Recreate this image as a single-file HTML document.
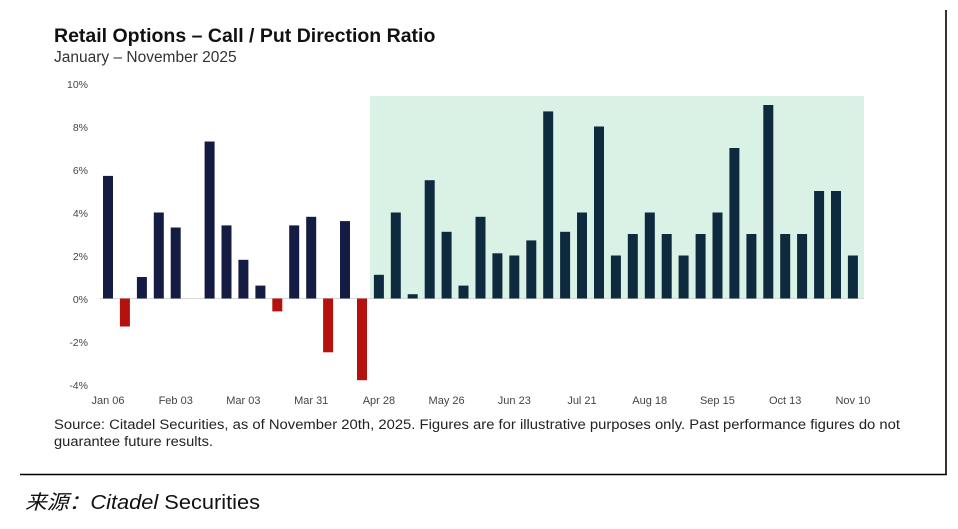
<!DOCTYPE html>
<html><head><meta charset="utf-8"><style>
body{margin:0;background:#fff;width:958px;height:529px;overflow:hidden}
svg{display:block}
</style></head><body>
<svg width="958" height="529" viewBox="0 0 958 529" xmlns="http://www.w3.org/2000/svg" font-family="Liberation Sans, Arial, sans-serif">
<rect width="958" height="529" fill="#fff"/>
<line x1="946" y1="10" x2="946" y2="475" stroke="#000" stroke-width="1.6"/>
<line x1="20" y1="474.5" x2="946.8" y2="474.5" stroke="#000" stroke-width="1.6"/>
<text x="54" y="42" font-size="19.5" font-weight="bold" fill="#111">Retail Options – Call / Put Direction Ratio</text>
<text x="54" y="62" font-size="15.5" fill="#333">January – November 2025</text>
<rect x="370" y="96" width="494" height="203" fill="#daf2e6"/>
<g font-size="10.5" fill="#444" text-anchor="end">
<text x="88" y="88">10%</text><text x="88" y="131">8%</text><text x="88" y="174">6%</text><text x="88" y="217">4%</text><text x="88" y="260">2%</text><text x="88" y="303">0%</text><text x="88" y="346">-2%</text><text x="88" y="389">-4%</text>
</g>
<line x1="100" y1="298.5" x2="864" y2="298.5" stroke="#d8d8d8" stroke-width="1"/>
<g fill="#141c44">
<rect x="103" y="175.9" width="10" height="122.6"/>
<rect x="136.9" y="277" width="10" height="21.5"/>
<rect x="153.8" y="212.5" width="10" height="86"/>
<rect x="170.7" y="227.5" width="10" height="71"/>
<rect x="204.6" y="141.5" width="10" height="157"/>
<rect x="221.5" y="225.4" width="10" height="73.1"/>
<rect x="238.4" y="259.8" width="10" height="38.7"/>
<rect x="255.4" y="285.6" width="10" height="12.9"/>
<rect x="289.2" y="225.4" width="10" height="73.1"/>
<rect x="306.2" y="216.8" width="10" height="81.7"/>
<rect x="340" y="221.1" width="10" height="77.4"/>
</g>
<g fill="#b5120f">
<rect x="119.9" y="298.5" width="10" height="28"/>
<rect x="272.3" y="298.5" width="10" height="12.9"/>
<rect x="323.1" y="298.5" width="10" height="53.8"/>
<rect x="357" y="298.5" width="10" height="81.7"/>
</g>
<g fill="#0e2a3e">
<rect x="373.9" y="274.8" width="10" height="23.7"/>
<rect x="390.8" y="212.5" width="10" height="86"/>
<rect x="407.7" y="294.2" width="10" height="4.3"/>
<rect x="424.7" y="180.2" width="10" height="118.3"/>
<rect x="441.6" y="231.8" width="10" height="66.7"/>
<rect x="458.5" y="285.6" width="10" height="12.9"/>
<rect x="475.5" y="216.8" width="10" height="81.7"/>
<rect x="492.4" y="253.3" width="10" height="45.2"/>
<rect x="509.3" y="255.5" width="10" height="43"/>
<rect x="526.3" y="240.4" width="10" height="58.1"/>
<rect x="543.2" y="111.4" width="10" height="187.1"/>
<rect x="560.1" y="231.8" width="10" height="66.7"/>
<rect x="577" y="212.5" width="10" height="86"/>
<rect x="594" y="126.5" width="10" height="172"/>
<rect x="610.9" y="255.5" width="10" height="43"/>
<rect x="627.8" y="234" width="10" height="64.5"/>
<rect x="644.8" y="212.5" width="10" height="86"/>
<rect x="661.7" y="234" width="10" height="64.5"/>
<rect x="678.6" y="255.5" width="10" height="43"/>
<rect x="695.6" y="234" width="10" height="64.5"/>
<rect x="712.5" y="212.5" width="10" height="86"/>
<rect x="729.4" y="148" width="10" height="150.5"/>
<rect x="746.4" y="234" width="10" height="64.5"/>
<rect x="763.3" y="105" width="10" height="193.5"/>
<rect x="780.2" y="234" width="10" height="64.5"/>
<rect x="797.1" y="234" width="10" height="64.5"/>
<rect x="814.1" y="191" width="10" height="107.5"/>
<rect x="831" y="191" width="10" height="107.5"/>
<rect x="847.9" y="255.5" width="10" height="43"/>
</g>
<g font-size="11" fill="#444" text-anchor="middle">
<text x="108" y="404">Jan 06</text><text x="175.7" y="404">Feb 03</text><text x="243.4" y="404">Mar 03</text><text x="311.2" y="404">Mar 31</text><text x="378.9" y="404">Apr 28</text><text x="446.6" y="404">May 26</text><text x="514.3" y="404">Jun 23</text><text x="582" y="404">Jul 21</text><text x="649.7" y="404">Aug 18</text><text x="717.4" y="404">Sep 15</text><text x="785.2" y="404">Oct 13</text><text x="852.9" y="404">Nov 10</text>
</g>
<text x="54" y="429" font-size="13.5" fill="#222" textLength="846" lengthAdjust="spacingAndGlyphs">Source: Citadel Securities, as of November 20th, 2025. Figures are for illustrative purposes only. Past performance figures do not</text>
<text x="54" y="446" font-size="13.5" fill="#222" textLength="159" lengthAdjust="spacingAndGlyphs">guarantee future results.</text>
<text x="25" y="509" font-size="20" fill="#111" textLength="235" lengthAdjust="spacingAndGlyphs"><tspan font-style="italic" font-family="Liberation Sans, Noto Sans CJK SC, sans-serif">来源：Citadel</tspan> Securities</text>
</svg>
</body></html>
